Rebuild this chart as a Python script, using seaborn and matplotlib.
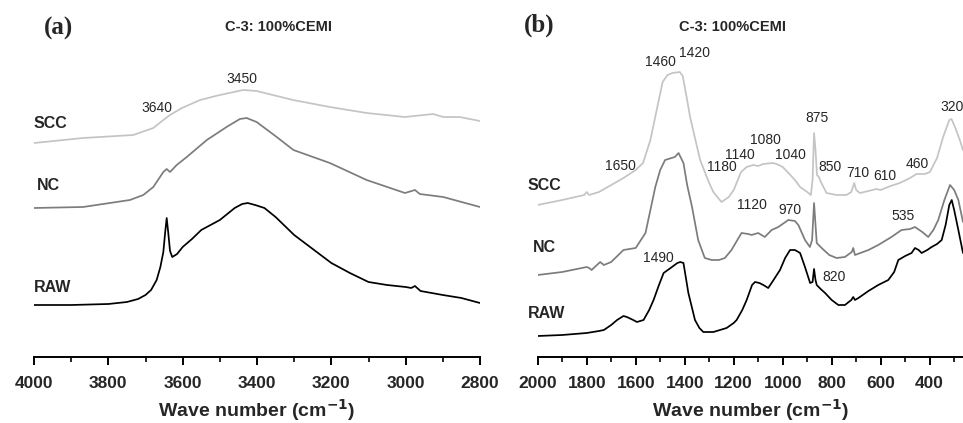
import numpy as np
import pandas as pd
import matplotlib.pyplot as plt
import seaborn as sns
from matplotlib.ticker import MultipleLocator

# ---- panel (a): 4000-2800 cm-1 (intensity in arbitrary units, offset included)
wn_a_raw = [4000, 3900, 3800, 3750, 3720, 3700, 3685, 3670, 3660, 3652, 3647, 3643,
            3639, 3634, 3628, 3615, 3600, 3575, 3550, 3525, 3500, 3480, 3460, 3440,
            3425, 3405, 3380, 3350, 3300, 3250, 3200, 3150, 3100, 3050, 3000, 2985,
            2975, 2960, 2900, 2850, 2800]
raw_a = [0.52, 0.52, 0.53, 0.55, 0.58, 0.62, 0.67, 0.77, 0.90, 1.05, 1.25, 1.39,
         1.25, 1.06, 1.00, 1.03, 1.10, 1.18, 1.27, 1.32, 1.37, 1.43, 1.49, 1.53,
         1.54, 1.52, 1.49, 1.40, 1.22, 1.08, 0.94, 0.84, 0.75, 0.72, 0.70, 0.69,
         0.71, 0.66, 0.62, 0.59, 0.54]

wn_a_nc = [4000, 3868, 3742, 3706, 3679, 3652, 3643, 3634, 3616, 3589, 3535, 3482,
           3446, 3428, 3401, 3347, 3302, 3204, 3105, 3002, 2975, 2962, 2899, 2800]
nc_a = [1.49, 1.50, 1.57, 1.62, 1.70, 1.85, 1.88, 1.85, 1.92, 2.00, 2.17, 2.30,
        2.38, 2.39, 2.35, 2.20, 2.07, 1.94, 1.77, 1.64, 1.67, 1.63, 1.60, 1.50]

wn_a_scc = [4000, 3868, 3733, 3679, 3652, 3634, 3602, 3553, 3500, 3437, 3401, 3303,
            3204, 3105, 3002, 2926, 2899, 2855, 2800]
scc_a = [2.14, 2.19, 2.22, 2.29, 2.37, 2.42, 2.49, 2.57, 2.62, 2.67, 2.66, 2.57,
         2.50, 2.44, 2.40, 2.43, 2.40, 2.40, 2.36]

# ---- panel (b): 2000-260 cm-1
wn_b_scc = [2000, 1900, 1810, 1800, 1790, 1750, 1700, 1650, 1600, 1570, 1540, 1510,
            1490, 1470, 1450, 1420, 1408, 1390, 1378, 1337, 1300, 1283, 1250, 1220,
            1200, 1170, 1147, 1120, 1100, 1080, 1040, 1025, 1000, 984, 950, 929, 900,
            885, 878, 872, 866, 860, 852, 842, 821, 780, 740, 720, 708, 700, 685, 650,
            617, 600, 560, 522, 480, 454, 420, 399, 370, 345, 320, 311, 295, 277, 264]
scc_b = [1.52, 1.57, 1.62, 1.65, 1.62, 1.65, 1.72, 1.79, 1.87, 1.94, 2.17, 2.52,
         2.75, 2.82, 2.84, 2.85, 2.81, 2.57, 2.40, 1.97, 1.74, 1.65, 1.55, 1.60,
         1.67, 1.85, 1.90, 1.92, 1.91, 1.93, 1.94, 1.93, 1.90, 1.86, 1.77, 1.70, 1.65,
         1.62, 1.77, 2.24, 2.07, 1.82, 1.80, 1.74, 1.64, 1.62, 1.62, 1.65, 1.74, 1.67,
         1.64, 1.66, 1.68, 1.67, 1.71, 1.74, 1.79, 1.83, 1.83, 1.85, 1.99, 2.20, 2.37,
         2.38, 2.29, 2.17, 2.07]

wn_b_nc = [2000, 1900, 1800, 1790, 1780, 1745, 1730, 1700, 1650, 1600, 1560, 1540,
           1520, 1500, 1480, 1440, 1425, 1405, 1390, 1370, 1345, 1318, 1290, 1260,
           1236, 1209, 1185, 1168, 1140, 1127, 1100, 1073, 1045, 1018, 977, 950, 936,
           909, 889, 880, 872, 866, 861, 841, 810, 780, 746, 718, 712, 705, 650, 610,
           556, 515, 480, 460, 430, 406, 385, 365, 340, 317, 300, 283, 264]
nc_b = [0.82, 0.85, 0.90, 0.89, 0.87, 0.95, 0.92, 0.95, 1.07, 1.09, 1.24, 1.47,
        1.70, 1.87, 1.97, 2.00, 2.04, 1.94, 1.72, 1.50, 1.17, 0.99, 0.97, 0.97,
        0.99, 1.07, 1.17, 1.24, 1.23, 1.22, 1.24, 1.20, 1.27, 1.30, 1.37, 1.36, 1.32,
        1.17, 1.10, 1.17, 1.54, 1.32, 1.14, 1.09, 1.02, 0.99, 1.00, 1.05, 1.09, 1.02,
        1.07, 1.12, 1.20, 1.27, 1.28, 1.30, 1.25, 1.20, 1.27, 1.37, 1.57, 1.72, 1.67,
        1.57, 1.35]

wn_b_raw = [2000, 1900, 1800, 1750, 1730, 1700, 1676, 1650, 1636, 1610, 1595, 1568,
            1545, 1527, 1505, 1486, 1452, 1430, 1418, 1405, 1395, 1385, 1370, 1358,
            1340, 1324, 1283, 1229, 1200, 1188, 1165, 1147, 1125, 1113, 1095, 1079,
            1059, 1040, 1011, 990, 970, 950, 929, 909, 888, 878, 872, 866, 861, 845,
            827, 800, 773, 746, 720, 712, 705, 691, 650, 610, 569, 545, 528, 500, 474,
            460, 445, 433, 410, 392, 370, 351, 335, 320, 310, 300, 283, 264]
raw_b = [0.21, 0.22, 0.24, 0.26, 0.27, 0.32, 0.37, 0.41, 0.40, 0.37, 0.35, 0.37,
         0.47, 0.57, 0.72, 0.84, 0.90, 0.94, 0.95, 0.94, 0.79, 0.64, 0.49, 0.37,
         0.29, 0.25, 0.25, 0.29, 0.34, 0.37, 0.47, 0.57, 0.72, 0.75, 0.74, 0.72,
         0.69, 0.76, 0.87, 0.99, 1.07, 1.07, 1.04, 0.90, 0.74, 0.75, 0.88, 0.77, 0.72,
         0.68, 0.64, 0.57, 0.52, 0.52, 0.57, 0.60, 0.57, 0.59, 0.66, 0.72, 0.77, 0.85,
         0.97, 1.01, 1.04, 1.09, 1.07, 1.04, 1.07, 1.10, 1.13, 1.17, 1.32, 1.52, 1.57,
         1.47, 1.27, 1.04]

# sample labels: (name, x, y)
samples_a = [("SCC", 4000, 2.34), ("NC", 3992, 1.71), ("RAW", 4000, 0.70)]
samples_b = [("SCC", 2040, 1.72), ("NC", 2020, 1.09), ("RAW", 2040, 0.44)]

# peak labels: (text, x, y)
peaks_a = [("3640", 3669, 2.49), ("3450", 3440, 2.78)]
peaks_b = [("1460", 1501, 2.95), ("1420", 1358, 3.04), ("320", 309, 2.50),
           ("875", 860, 2.39), ("1080", 1072, 2.17), ("1140", 1174, 2.02),
           ("1040", 970, 2.02), ("1650", 1664, 1.91), ("1180", 1248, 1.90),
           ("850", 807, 1.90), ("710", 693, 1.84), ("610", 582, 1.81),
           ("460", 452, 1.93), ("1120", 1125, 1.52), ("970", 970, 1.47),
           ("535", 509, 1.41), ("1490", 1509, 0.99), ("820", 790, 0.80)]

colors = {"RAW": "#000000", "NC": "#7c7c7c", "SCC": "#c4c4c4"}

sns.set_style("white")
plt.rcParams['font.family'] = ['Liberation Sans', 'DejaVu Sans']

fig = plt.figure(figsize=(9.63, 4.23), dpi=100)
ax_a = fig.add_axes([34 / 963, 66 / 423, 446 / 963, 317 / 423])
ax_b = fig.add_axes([537.7 / 963, 66 / 423, 425.3 / 963, 317 / 423])

series_a = [("SCC", wn_a_scc, scc_a), ("NC", wn_a_nc, nc_a), ("RAW", wn_a_raw, raw_a)]
series_b = [("SCC", wn_b_scc, scc_b), ("NC", wn_b_nc, nc_b), ("RAW", wn_b_raw, raw_b)]

for ax, series, samples, peaks, xlim in [
        (ax_a, series_a, samples_a, peaks_a, (4000, 2800)),
        (ax_b, series_b, samples_b, peaks_b, (2000, 264))]:
    for name, wn, val in series:
        df = pd.DataFrame({"wn": wn, "val": val})
        sns.lineplot(data=df, x="wn", y="val", color=colors[name], lw=1.25, ax=ax)
    for name, x, y in samples:
        ax.text(x, y, name, ha="left", va="center", fontsize=11.5, fontweight="bold")
    for txt, x, y in peaks:
        ax.text(x, y, txt, ha="center", va="center", fontsize=10)

    ax.set_xlim(*xlim)
    ax.set_ylim(0, 3.17)
    ax.set_yticks([])
    ax.set_ylabel("")
    ax.xaxis.set_major_locator(MultipleLocator(200))
    ax.xaxis.set_minor_locator(MultipleLocator(100))
    for side in ["left", "right", "top"]:
        ax.spines[side].set_visible(False)
    ax.spines["bottom"].set_linewidth(1.4)
    ax.spines["bottom"].set_color("black")
    ax.tick_params(axis="x", which="major", direction="out", length=6, width=1.4,
                   pad=8, labelsize=12.5, bottom=True, color="black")
    ax.tick_params(axis="x", which="minor", direction="out", length=3.5, width=1.2,
                   bottom=True, color="black")
    for lbl in ax.get_xticklabels():
        lbl.set_fontweight("bold")
    ax.set_xlabel("Wave number (cm$^{\\mathbf{-1}}$)", fontsize=14, fontweight="bold",
                  labelpad=4)
    ax.patch.set_alpha(0)

fig.text(58 / 963, 1 - 28 / 423, "(a)", ha="center", va="center", fontsize=18,
         fontweight="bold", family="Liberation Serif")
fig.text(539 / 963, 1 - 25 / 423, "(b)", ha="center", va="center", fontsize=18,
         fontweight="bold", family="Liberation Serif")
fig.text(278 / 963, 1 - 27 / 423, "C-3: 100%CEMI", ha="center", va="center",
         fontsize=10.5, fontweight="bold")
fig.text(732 / 963, 1 - 27 / 423, "C-3: 100%CEMI", ha="center", va="center",
         fontsize=10.5, fontweight="bold")

fig.savefig("out.png", dpi=100)
